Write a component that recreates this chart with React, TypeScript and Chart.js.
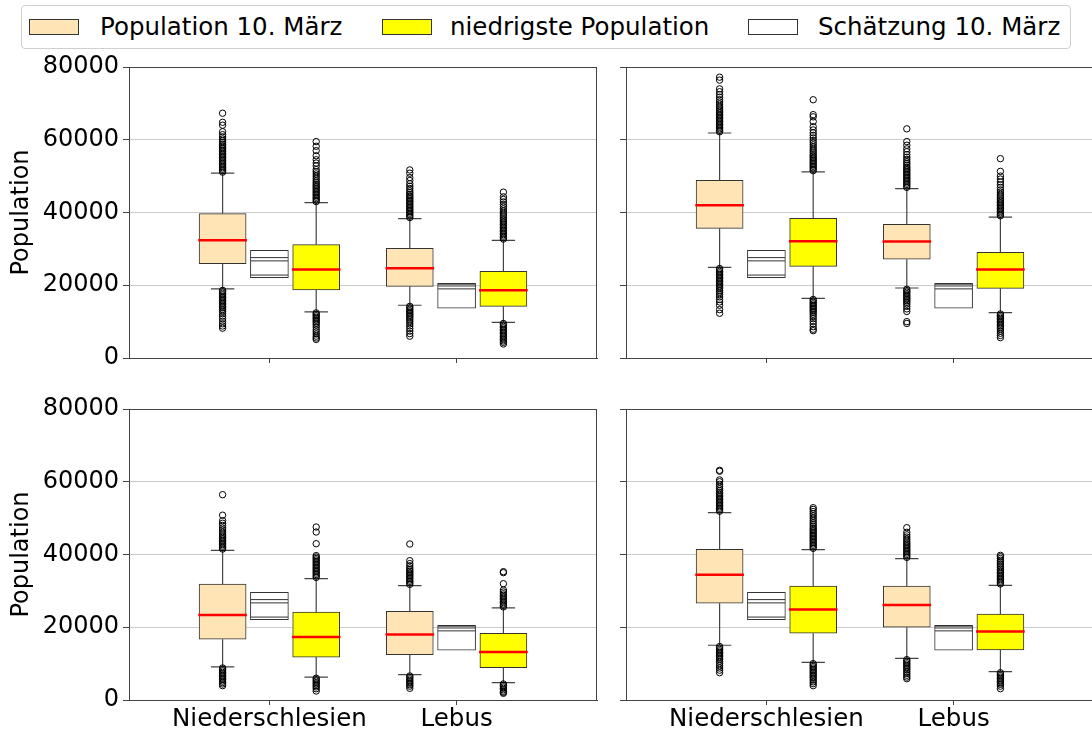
import React, { useEffect, useRef } from 'react';
import { Chart, registerables } from 'chart.js';

Chart.register(...registerables);

const FONT = "'DejaVu Sans', sans-serif";

const categories = ['Niederschlesien', 'Lebus'];
const seriesLabels = ['Population 10. März', 'niedrigste Population', 'Schätzung 10. März'];
const yTicks = [0, 20000, 40000, 60000, 80000];
const yAxisTitle = 'Population';

// panels: 0 top-left, 1 top-right, 2 bottom-left, 3 bottom-right; inner pairs: [Niederschlesien, Lebus]
const popQ1 = [[25900, 19700], [35650, 27150], [16700, 12450], [26600, 20000]];
const popMedian = [[32400, 24700], [42000, 32000], [23400, 18000], [34450, 26100]];
const popQ3 = [[39700, 30150], [48850, 36750], [31900, 24400], [41400, 31350]];
const popWhiskerLow = [[19000, 14500], [24900, 19250], [9100, 6950], [15050, 11450]];
const popWhiskerHigh = [[50800, 38300], [61850, 46550], [41150, 31450], [51500, 38850]];

const lowQ1 = [[18700, 14200], [25200, 19150], [11800, 8900], [18350, 13750]];
const lowMedian = [[24300, 18600], [32100, 24300], [17300, 13200], [24850, 18800]];
const lowQ3 = [[31150, 23850], [38400, 29050], [24200, 18350], [31350, 23650]];
const lowWhiskerLow = [[12700, 9800], [16400, 12450], [6300, 4750], [10350, 7800]];
const lowWhiskerHigh = [[42700, 32350], [51150, 38750], [33350, 25300], [41350, 31500]];

const estMin = [22100, 13700];
const estQ1 = [22800, 19000];
const estMedian = [26700, 19800];
const estQ3 = [27600, 20300];
const estMax = [29600, 20500];

const popOutliersHigh = [
  [[51100, 51500, 51900, 52300, 52700, 53100, 53500, 53900, 54300, 54700, 55100, 55500, 55900, 56300, 56700, 57100, 57500, 57900, 58300, 58700, 59200, 59700, 60200, 60800, 61400, 62200, 64000, 64800, 67300],
   [38600, 39000, 39400, 39800, 40200, 40600, 41000, 41400, 41800, 42200, 42600, 43000, 43400, 43800, 44200, 44600, 45000, 45500, 46000, 46600, 47200, 47900, 48800, 49600, 50800, 51700]],
  [[62200, 62600, 63000, 63400, 63800, 64200, 64600, 65000, 65400, 65800, 66200, 66600, 67000, 67400, 67800, 68200, 68700, 69200, 69800, 70400, 71000, 71700, 72400, 73200, 74000, 76400, 77200],
   [46900, 47300, 47700, 48100, 48500, 48900, 49300, 49700, 50100, 50500, 50900, 51300, 51700, 52100, 52500, 53000, 53500, 54000, 54600, 55200, 55900, 56700, 57500, 58500, 59500, 63000]],
  [[41500, 41900, 42300, 42700, 43100, 43500, 43900, 44300, 44700, 45100, 45600, 46100, 46700, 47300, 48000, 48600, 49300, 50800, 56450],
   [31800, 32200, 32600, 33000, 33400, 33800, 34200, 34600, 35000, 35400, 35800, 36300, 36900, 37500, 38300, 42880]],
  [[51900, 52300, 52700, 53100, 53500, 53900, 54300, 54700, 55100, 55500, 55900, 56300, 56700, 57100, 57600, 58100, 58700, 59300, 60000, 60500, 62900, 63140],
   [39200, 39600, 40000, 40400, 40800, 41200, 41600, 42000, 42400, 42800, 43200, 43700, 44200, 44800, 45400, 46100, 47370]],
];
const popOutliersLow = [
  [[18600, 18200, 17800, 17400, 17000, 16600, 16200, 15800, 15400, 15000, 14600, 14200, 13800, 13300, 12800, 12200, 11500, 10800, 10100, 9400, 8800, 8200],
   [14200, 13800, 13400, 13000, 12600, 12200, 11800, 11400, 11000, 10500, 10000, 9400, 8800, 8100, 7400, 6700, 6000]],
  [[24600, 24200, 23800, 23400, 23000, 22600, 22200, 21800, 21400, 21000, 20600, 20200, 19800, 19400, 19000, 18500, 18000, 17400, 16800, 16100, 15400, 14500, 13300, 12300],
   [18900, 18500, 18100, 17700, 17300, 16900, 16500, 16100, 15700, 15300, 14800, 14200, 13500, 12800, 10000, 9500]],
  [[8800, 8400, 8000, 7600, 7200, 6800, 6400, 6000, 5600, 5200, 4800, 4400, 3940],
   [6600, 6200, 5800, 5400, 5000, 4600, 4200, 3800, 3210]],
  [[14700, 14300, 13900, 13500, 13100, 12700, 12300, 11900, 11500, 11100, 10600, 10000, 9400, 8800, 8200, 7510],
   [11100, 10700, 10300, 9900, 9500, 9100, 8700, 8300, 7800, 7300, 6800, 6300, 5860]],
];
const lowOutliersHigh = [
  [[43000, 43400, 43800, 44200, 44600, 45000, 45400, 45800, 46200, 46600, 47000, 47400, 47800, 48300, 48800, 49400, 50000, 50600, 51200, 51800, 52800, 53600, 54500, 55600, 57000, 58200, 59500],
   [32700, 33100, 33500, 33900, 34300, 34700, 35100, 35500, 35900, 36300, 36700, 37100, 37500, 37900, 38300, 38800, 39300, 39800, 40400, 41000, 41600, 42200, 42900, 43600, 44300, 45600]],
  [[51500, 51900, 52300, 52700, 53100, 53500, 53900, 54300, 54700, 55100, 55500, 55900, 56400, 56900, 57400, 58000, 58600, 59200, 59800, 60500, 61200, 61900, 62700, 63600, 65000, 66300, 66900, 71000],
   [39100, 39500, 39900, 40300, 40700, 41100, 41500, 41900, 42300, 42700, 43100, 43500, 44000, 44500, 45000, 45600, 46200, 46900, 47600, 48400, 49200, 50000, 51300, 54800]],
  [[33700, 34100, 34500, 34900, 35300, 35700, 36100, 36500, 36900, 37300, 37700, 38100, 38500, 38900, 39300, 39700, 42970, 46180, 47560],
   [25600, 26000, 26400, 26800, 27200, 27600, 28000, 28400, 28800, 29200, 29700, 30240, 31970, 35000, 35280]],
  [[41700, 42100, 42500, 42900, 43300, 43700, 44100, 44500, 44900, 45300, 45700, 46100, 46500, 46900, 47300, 47800, 48300, 48800, 49400, 50000, 50600, 51200, 51800, 52400, 52870],
   [31900, 32300, 32700, 33100, 33500, 33900, 34300, 34700, 35100, 35500, 35900, 36400, 36900, 37400, 37900, 38400, 38900, 39400, 39770]],
];
const lowOutliersLow = [
  [[12400, 12000, 11600, 11200, 10800, 10400, 10000, 9600, 9100, 8500, 7800, 7200, 6600, 6000, 5500, 5100],
   [9500, 9100, 8700, 8300, 7900, 7500, 7100, 6700, 6300, 5900, 5500, 5100, 4700, 4300, 3850]],
  [[16100, 15700, 15300, 14900, 14500, 14100, 13700, 13300, 12900, 12500, 12000, 11400, 10800, 10100, 9400, 8600, 7900, 7500],
   [12100, 11700, 11300, 10900, 10500, 10100, 9700, 9300, 8900, 8500, 8000, 7400, 6800, 6200, 5600]],
  [[6000, 5600, 5200, 4800, 4400, 4000, 3600, 3100, 2470],
   [4400, 4000, 3600, 3200, 2800, 2400, 2100, 1840]],
  [[10000, 9600, 9200, 8800, 8400, 8000, 7600, 7200, 6800, 6400, 6000, 5500, 5000, 4500, 3940],
   [7500, 7100, 6700, 6300, 5900, 5500, 5100, 4700, 4300, 3800, 3110]],
];

const COLORS = {
  pop: '#FFE4B5',
  low: '#FFFF00',
  est: '#FFFFFF',
  edge: '#333333',
  median: '#FF0000',
  spine: '#444444',
  grid: '#cccccc',
};

const POP_OFF = -0.25;
const LOW_OFF = 0.25;
const BOX_HALF = 0.125;
const CAP_HALF = 0.0625;
const EST_HALF = 0.1;

type Seg = [number, number, number, number];
function segs(list: Seg[]) {
  const out: any[] = [];
  for (const [x1, y1, x2, y2] of list) {
    out.push({ x: x1, y: y1 }, { x: x2, y: y2 }, { x: x2, y: null });
  }
  return out;
}

function buildDatasets(p: number) {
  const boxes = (off: number, q1: number[][], q3: number[][]) =>
    categories.map((_, c) => ({ x: c + 1 + off, y: [q1[p][c], q3[p][c]] }));

  const whiskerSegs: Seg[] = [];
  const medianSegs: Seg[] = [];
  const addBox = (off: number, q1: number[][], med: number[][], q3: number[][], wl: number[][], wh: number[][]) => {
    categories.forEach((_, c) => {
      const x = c + 1 + off;
      whiskerSegs.push([x, q3[p][c], x, wh[p][c]]);
      whiskerSegs.push([x, q1[p][c], x, wl[p][c]]);
      whiskerSegs.push([x - CAP_HALF, wh[p][c], x + CAP_HALF, wh[p][c]]);
      whiskerSegs.push([x - CAP_HALF, wl[p][c], x + CAP_HALF, wl[p][c]]);
      medianSegs.push([x - BOX_HALF - 0.005, med[p][c], x + BOX_HALF + 0.005, med[p][c]]);
    });
  };
  addBox(POP_OFF, popQ1, popMedian, popQ3, popWhiskerLow, popWhiskerHigh);
  addBox(LOW_OFF, lowQ1, lowMedian, lowQ3, lowWhiskerLow, lowWhiskerHigh);

  const estSegs: Seg[] = [];
  categories.forEach((_, c) => {
    const x = c + 1;
    [estQ1[c], estMedian[c], estQ3[c]].forEach((v) => estSegs.push([x - EST_HALF, v, x + EST_HALF, v]));
  });

  const outliers: any[] = [];
  categories.forEach((_, c) => {
    popOutliersHigh[p][c].forEach((v) => outliers.push({ x: c + 1 + POP_OFF, y: v }));
    popOutliersLow[p][c].forEach((v) => outliers.push({ x: c + 1 + POP_OFF, y: v }));
    lowOutliersHigh[p][c].forEach((v) => outliers.push({ x: c + 1 + LOW_OFF, y: v }));
    lowOutliersLow[p][c].forEach((v) => outliers.push({ x: c + 1 + LOW_OFF, y: v }));
  });

  const barCommon = {
    type: 'bar' as const,
    borderColor: COLORS.edge,
    borderWidth: 1,
    borderSkipped: false,
    grouped: false,
    order: 5,
  };
  const lineCommon = {
    type: 'line' as const,
    pointRadius: 0,
    fill: false,
    tension: 0,
    spanGaps: false,
  };

  return [
    { ...barCommon, label: seriesLabels[0], data: boxes(POP_OFF, popQ1, popQ3), backgroundColor: COLORS.pop, barThickness: 47 },
    { ...barCommon, label: seriesLabels[1], data: boxes(LOW_OFF, lowQ1, lowQ3), backgroundColor: COLORS.low, barThickness: 47 },
    {
      ...barCommon,
      label: seriesLabels[2],
      data: categories.map((_, c) => ({ x: c + 1, y: [estMin[c], estMax[c]] })),
      backgroundColor: COLORS.est,
      barThickness: 38,
    },
    { ...lineCommon, label: 'est-lines', data: segs(estSegs), borderColor: '#333333', borderWidth: 1, order: 3 },
    { ...lineCommon, label: 'whiskers', data: segs(whiskerSegs), borderColor: '#444444', borderWidth: 1.2, order: 4 },
    { ...lineCommon, label: 'medians', data: segs(medianSegs), borderColor: COLORS.median, borderWidth: 2.5, order: 1 },
    {
      type: 'scatter' as const,
      label: 'outliers',
      data: outliers,
      pointRadius: 3.2,
      pointBorderWidth: 1,
      borderColor: '#000000',
      backgroundColor: 'rgba(0,0,0,0)',
      pointBackgroundColor: 'rgba(0,0,0,0)',
      pointBorderColor: '#000000',
      showLine: false,
      order: 2,
    },
  ];
}

const framePlugin = {
  id: 'frame',
  afterDraw(chart: any) {
    const { ctx, chartArea: a } = chart;
    ctx.save();
    ctx.strokeStyle = COLORS.spine;
    ctx.lineWidth = 1;
    ctx.beginPath();
    const ty = Math.round(a.top) + 0.5;
    const rx = Math.round(a.right) - 0.5;
    ctx.moveTo(a.left, ty);
    ctx.lineTo(a.right, ty);
    ctx.moveTo(rx, a.top);
    ctx.lineTo(rx, a.bottom);
    ctx.stroke();
    ctx.restore();
  },
};

interface PanelProps {
  index: number;
  left: number;
  top: number;
  width: number;
  height: number;
  yAxisWidth: number;
  xAxisHeight: number;
  padTop: number;
  padRight: number;
  showYLabels: boolean;
  showXLabels: boolean;
}

function Panel(props: PanelProps) {
  const ref = useRef<HTMLCanvasElement>(null);
  useEffect(() => {
    const p = props;
    const chart = new Chart(ref.current as HTMLCanvasElement, {
      type: 'bar',
      data: { datasets: buildDatasets(p.index) as any },
      options: {
        animation: false,
        responsive: false,
        devicePixelRatio: 1,
        events: [],
        layout: { padding: { top: p.padTop, right: p.padRight, left: 0, bottom: 0 } },
        plugins: { legend: { display: false }, tooltip: { enabled: false } },
        scales: {
          x: {
            type: 'linear',
            min: 0.25,
            max: 2.75,
            offset: false,
            afterBuildTicks: (s: any) => {
              s.ticks = categories.map((_, i) => ({ value: i + 1 }));
            },
            afterFit: (s: any) => {
              s.height = p.xAxisHeight;
            },
            ticks: {
              display: p.showXLabels,
              autoSkip: false,
              maxRotation: 0,
              padding: 0,
              color: '#000',
              font: { family: FONT, size: 24.5 },
              callback: (v: any) => categories[Math.round(Number(v)) - 1] ?? '',
            },
            grid: {
              offset: false,
              drawOnChartArea: false,
              tickLength: 5,
              tickColor: COLORS.spine,
              color: COLORS.spine,
            },
            border: { color: COLORS.spine, width: 1 },
          },
          y: {
            type: 'linear',
            min: 0,
            max: 80000,
            afterBuildTicks: (s: any) => {
              s.ticks = yTicks.map((v) => ({ value: v }));
            },
            afterFit: (s: any) => {
              s.width = p.yAxisWidth;
            },
            ticks: {
              display: p.showYLabels,
              padding: 4,
              color: '#000',
              font: { family: FONT, size: 24 },
              callback: (v: any) => String(v),
            },
            grid: {
              color: (ctx: any) =>
                ctx.tick && (ctx.tick.value === 0 || ctx.tick.value === 80000) ? 'rgba(0,0,0,0)' : COLORS.grid,
              tickColor: COLORS.spine,
              tickLength: 6,
              lineWidth: 1,
            },
            border: { color: COLORS.spine, width: 1 },
            title: {
              display: p.showYLabels,
              text: yAxisTitle,
              color: '#000',
              font: { family: FONT, size: 24 },
              padding: { top: 7, bottom: 0 },
            },
          },
        },
      } as any,
      plugins: [framePlugin],
    });
    return () => chart.destroy();
  }, []);
  return (
    <canvas
      ref={ref}
      width={props.width}
      height={props.height}
      style={{ position: 'absolute', left: props.left, top: props.top, width: props.width, height: props.height }}
    />
  );
}

const panels: PanelProps[] = [
  { index: 0, left: 0, top: 40, width: 610, height: 340, yAxisWidth: 129, xAxisHeight: 22, padTop: 27, padRight: 13, showYLabels: true, showXLabels: false },
  { index: 1, left: 600, top: 40, width: 500, height: 340, yAxisWidth: 26, xAxisHeight: 22, padTop: 27, padRight: 6, showYLabels: false, showXLabels: false },
  { index: 2, left: 0, top: 385, width: 610, height: 346, yAxisWidth: 129, xAxisHeight: 31, padTop: 24, padRight: 13, showYLabels: true, showXLabels: true },
  { index: 3, left: 600, top: 385, width: 500, height: 346, yAxisWidth: 26, xAxisHeight: 31, padTop: 24, padRight: 6, showYLabels: false, showXLabels: true },
];

const legendPatches = [
  { left: 29, color: COLORS.pop },
  { left: 382, color: COLORS.low },
  { left: 748, color: COLORS.est },
];
const legendTextLeft = [100, 450, 818];

export default function App() {
  return (
    <div
      style={{
        position: 'fixed',
        left: 0,
        top: 0,
        width: 1092,
        height: 731,
        overflow: 'hidden',
        background: '#fff',
        fontFamily: FONT,
      }}
    >
      {panels.map((p) => (
        <Panel key={p.index} {...p} />
      ))}
      <div
        style={{
          position: 'absolute',
          left: 21,
          top: 5,
          width: 1050,
          height: 44,
          border: '1px solid #d0d0d0',
          borderRadius: 4,
          boxSizing: 'border-box',
          background: '#fff',
        }}
      />
      {legendPatches.map((lp, i) => (
        <div
          key={'p' + i}
          style={{
            position: 'absolute',
            left: lp.left,
            top: 19,
            width: 50,
            height: 16,
            boxSizing: 'border-box',
            border: '1px solid #333',
            background: lp.color,
          }}
        />
      ))}
      {seriesLabels.map((t, i) => (
        <span
          key={'t' + i}
          style={{
            position: 'absolute',
            left: legendTextLeft[i],
            top: 12,
            fontSize: 24.5,
            lineHeight: '30px',
            color: '#000',
            whiteSpace: 'nowrap',
          }}
        >
          {t}
        </span>
      ))}
    </div>
  );
}
